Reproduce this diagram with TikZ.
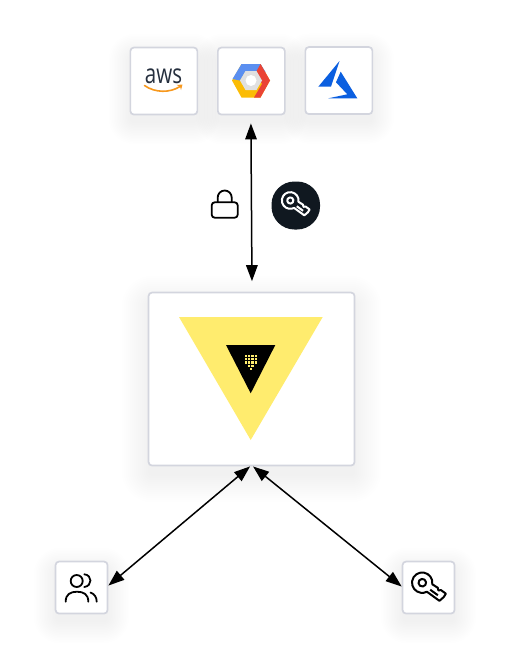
\documentclass[tikz,border=0pt]{standalone}
\usepackage{fontspec}
\setmainfont{Open Sans}
\usetikzlibrary{arrows.meta,backgrounds}
\definecolor{edgegray}{HTML}{D3D5DE}
\definecolor{vaultyellow}{HTML}{FFEC6E}
\definecolor{inkdark}{HTML}{101820}
\definecolor{awsink}{HTML}{252F3E}
\definecolor{awsorange}{HTML}{F7981D}
\definecolor{gblue}{HTML}{5B8FF0}
\definecolor{gred}{HTML}{EA4335}
\definecolor{gyellow}{HTML}{FBBC05}
\definecolor{ggray}{HTML}{E0E0E0}
\definecolor{azblue}{HTML}{0B5FE0}
\definecolor{shadowink}{HTML}{30304A}
\tikzset{
  cardbox/.style={draw=edgegray,line width=1.7pt,rounded corners=3.5pt,fill=white,inner sep=0pt,anchor=north west},
  linkarrow/.style={line width=1.5pt,black,{Triangle[length=16pt,width=11.5pt]}-{Triangle[length=16pt,width=11.5pt]}},
  iconline/.style={line width=1.8pt,line cap=round,line join=round},
}
% #1 node, #2 spread factor
\newcommand{\softshadow}[2]{%
  \foreach \t in {0,2,4,...,26}{
    \pgfmathsetmacro{\s}{\t*#2}
    \pgfmathsetmacro{\d}{10*#2}
    \pgfmathsetmacro{\r}{\s+5}
    \fill[shadowink,opacity=0.0042,rounded corners=\r pt]
      ([xshift=-\s pt,yshift=-\s pt-\d pt]#1.south west) rectangle ([xshift=\s pt,yshift=\s pt-\d pt]#1.north east);
  }}
% key pointing along +x, head centred at origin; notches on the lower edge
\newcommand{\keyicon}[4]{% x,y,scale,colour
  \begin{scope}[shift={(#1,#2)},rotate=-36,scale=#3,line width=2pt,line join=round,draw=#4]
    \draw (9.0,4.6) -- (24.5,4.6) -- (25.8,-1) -- (25.5,-5) -- (19.5,-5) -- (17.5,-3.2) -- (15.5,-5) -- (9.0,-4.6) arc[start angle=-27,end angle=-333,radius=10.2] -- cycle;
    \draw (0,0) circle[radius=3.8];
    \draw (10.5,1) -- (20,1);
  \end{scope}}
\begin{document}
\begin{tikzpicture}[x=1pt,y=-1pt]
\useasboundingbox (0,0) rectangle (507,656);
\node[cardbox,minimum width=67pt,minimum height=67pt] (aws) at (129.5,46.7) {};
\node[cardbox,minimum width=67pt,minimum height=67pt] (gcp) at (217,46.7) {};
\node[cardbox,minimum width=67pt,minimum height=67pt] (azure) at (304.5,46.2) {};
\node[cardbox,minimum width=206pt,minimum height=173pt] (vault) at (147.7,291.7) {};
\node[cardbox,minimum width=52pt,minimum height=52pt] (users) at (54.7,560.7) {};
\node[cardbox,minimum width=52pt,minimum height=52pt] (keybox) at (401.7,560.7) {};
\begin{scope}[on background layer]
  \fill[white] (0,0) rectangle (507,656);
  \softshadow{aws}{.8}\softshadow{gcp}{.8}\softshadow{azure}{.8}\softshadow{vault}{1}\softshadow{users}{.8}\softshadow{keybox}{.8}
\end{scope}
% aws
\node[inner sep=0pt,text=awsink,font=\fontsize{27}{27}\selectfont,xscale=.76] (awstext) at (163.5,76.2) {aws};
\draw[awsorange,line width=1.6pt,line cap=round] (144.5,85.5) .. controls (155,93) and (170,93) .. (180,86.5);
\fill[awsorange] (176.5,85) -- (182.5,84.5) -- (181,90) -- (180,86.5) -- cycle;
% gcp
\fill[gyellow] (232,80.5) -- (241.5,64) -- (260.5,64) -- (270,80.5) -- (260.5,97.5) -- (241.5,97.5) -- cycle;
\fill[gblue] (232.5,79) -- (241.5,64) -- (260.5,64) -- (265.5,72) -- (245,72) -- (240,80.5) -- cycle;
\fill[gred] (260.5,64) -- (270,80.5) -- (260.5,97.5) -- (254,97.5) -- (262,84) -- (256,72) -- cycle;
\fill[ggray] (240,80.5) -- (245.5,71) -- (256.5,71) -- (262,80.5) -- (256.5,90) -- (245.5,90) -- cycle;
\fill[white] (251,80.5) circle[radius=5.5];
% azure
\fill[azblue] (339.5,61) -- (318.3,86.7) -- (331,86.7) -- cycle;
\fill[azblue] (340.7,71.7) -- (357.3,98.3) -- (328.3,98.3) -- (347.3,94.3) -- (336,82.3) -- cycle;
% link top
\draw[linkarrow,shorten <=8pt,shorten >=10.5pt] ([xshift=-.5pt]gcp.south) -- ([xshift=.5pt]vault.north);
% lock
\draw[iconline,rounded corners=3pt] (211.7,202.3) rectangle (237.7,217.7);
\draw[iconline] (217.7,202) -- (217.7,197.5) arc[start angle=180,end angle=360,radius=7] -- (231.7,202);
% dark key
\fill[inkdark,rounded corners=23pt] (271.5,181.5) rectangle (320,229.5);
\keyicon{290.3}{200.5}{0.82}{white}
% vault logo
\fill[vaultyellow] (179,317) -- (322.7,317) -- (250.7,440) -- cycle;
\fill[black] (226,345) -- (275.3,345) -- (250.7,393.3) -- cycle;
\foreach \c in {0,1,2,3}{\foreach \r in {0,1,2}{
  \fill[vaultyellow] (245.2+\c*3.1,355.2+\r*3.1) rectangle +(2.1,2.1);}}
\foreach \c in {1,2}{\fill[vaultyellow] (245.2+\c*3.1,364.5) rectangle +(2.1,2.1);}
\fill[vaultyellow] (249.8,367.6) rectangle +(2.1,2.1);
% links bottom
\draw[linkarrow] ([xshift=-1.5pt]vault.south) -- ([yshift=2pt]users.east);
\draw[linkarrow] ([xshift=1.5pt]vault.south) -- ([yshift=1pt]keybox.west);
% users icon
\draw[iconline] (76.7,581) circle[radius=6];
\draw[iconline] (65.7,601.7) .. controls (65.7,594.5) and (70,591.7) .. (77,591.7) .. controls (84,591.7) and (88.3,594.5) .. (88.3,601.7);
\draw[iconline] (84.3,574.3) .. controls (92.5,575) and (92.5,586) .. (84.3,587);
\draw[iconline] (90.5,592.5) .. controls (94.5,594) and (96.7,597) .. (96.7,601.7);
% key icon
\keyicon{422.3}{582.7}{1}{black}
\end{tikzpicture}
\end{document}
